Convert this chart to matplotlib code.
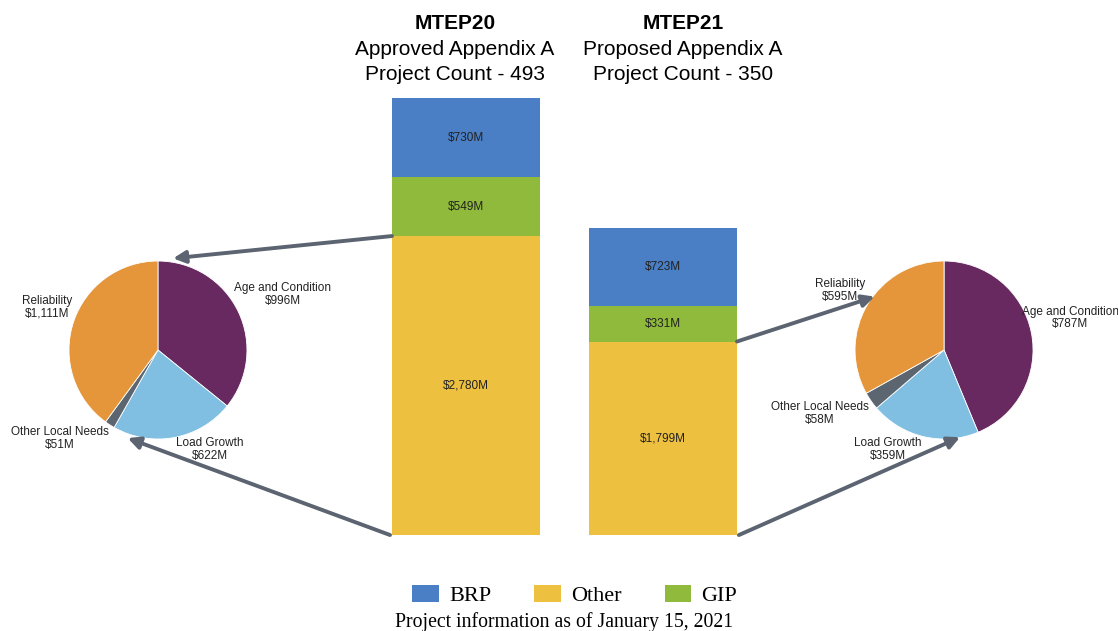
import matplotlib.pyplot as plt
from matplotlib.patches import ConnectionPatch

plt.rcParams['font.family'] = ['Liberation Sans', 'DejaVu Sans']

# bar data ($M)
plans = ['MTEP20', 'MTEP21']
subtitles = ['Approved Appendix A', 'Proposed Appendix A']
counts = [493, 350]
other = [2780, 1799]
gip = [549, 331]
brp = [730, 723]

# breakdown of "Other" ($M)
pie_labels = ['Age and Condition', 'Load Growth', 'Other Local Needs', 'Reliability']
pie20 = [996, 622, 51, 1111]
pie21 = [787, 359, 58, 595]

c_brp, c_gip, c_other = '#4a7fc5', '#8fba3c', '#edc040'
pie_colors = ['#67295f', '#80bfe2', '#5b6670', '#e5953a']
arrow_color = '#5b6470'


def money(v):
    return f"${v:,}M"


fig = plt.figure(figsize=(11.18, 6.31), dpi=100)

# stacked bars
ax = fig.add_axes([0.3287, 0.1521, 0.3524, 0.767])
x = [0, 1]
w = 0.751
b_other = ax.bar(x, other, w, color=c_other, label='Other')
b_gip = ax.bar(x, gip, w, bottom=other, color=c_gip, label='GIP')
b_brp = ax.bar(x, brp, w, bottom=[o + g for o, g in zip(other, gip)],
               color=c_brp, label='BRP')
for cont, vals in [(b_other, other), (b_gip, gip), (b_brp, brp)]:
    ax.bar_label(cont, labels=[money(v) for v in vals], label_type='center',
                 fontsize=8.5, color='#222222')
ax.set_xlim(-0.5, 1.5)
ax.set_ylim(0, 4500)
ax.axis('off')

# titles above bars
for xf, name, sub, n in zip([0.407, 0.611], plans, subtitles, counts):
    fig.text(xf, 0.963, name, ha='center', va='center', fontsize=15,
             fontweight='bold')
    fig.text(xf, 0.922, sub, ha='center', va='center', fontsize=15)
    fig.text(xf, 0.882, f"Project Count - {n}", ha='center', va='center',
             fontsize=15)

# pies
label_pos20 = [(1.40, 0.62), (0.58, -1.12), (-1.10, -0.99), (-1.25, 0.48)]
label_pos21 = [(1.42, 0.36), (-0.63, -1.12), (-1.40, -0.71), (-1.17, 0.67)]
pie_axes = []
for left, vals, pos in [(0.0418, pie20, label_pos20), (0.7449, pie21, label_pos21)]:
    pax = fig.add_axes([left, 0.269, 0.199, 0.3526])
    pax.pie(vals, colors=pie_colors, startangle=90, counterclock=False,
            wedgeprops=dict(linewidth=0.6, edgecolor='white'))
    pax.set_xlim(-1.25, 1.25)
    pax.set_ylim(-1.25, 1.25)
    for lab, v, (px, py) in zip(pie_labels, vals, pos):
        pax.text(px, py, f"{lab}\n{money(v)}", ha='center', va='center',
                 fontsize=8.5, color='#222222', linespacing=1.1)
    pie_axes.append(pax)

# arrows from bars to pies
arrows = [
    ((-w / 2, other[0]), pie_axes[0], (0.17, 1.03)),
    ((-w / 2 - 0.01, 0), pie_axes[0], (-0.34, -0.99)),
    ((1 + w / 2, other[1]), pie_axes[1], (-0.78, 0.60)),
    ((1 + w / 2 + 0.01, 0), pie_axes[1], (0.18, -0.98)),
]
for start, pax, end in arrows:
    con = ConnectionPatch(xyA=start, coordsA=ax.transData, xyB=end,
                          coordsB=pax.transData, arrowstyle='-|>',
                          mutation_scale=18, lw=2.8, color=arrow_color,
                          shrinkA=0, shrinkB=0)
    fig.add_artist(con)

# legend and footnote
fig.legend(handles=[b_brp, b_other, b_gip], labels=['BRP', 'Other', 'GIP'],
           loc='center', bbox_to_anchor=(0.514, 0.056), ncol=3, frameon=False,
           prop={'family': 'Liberation Serif', 'size': 16},
           handlelength=1.2, handleheight=0.8, handletextpad=0.45,
           columnspacing=1.94)
fig.text(0.5045, 0.014, 'Project information as of January 15, 2021',
         ha='center', va='center', fontsize=14.2, family='Liberation Serif')

fig.savefig('out.png', dpi=100)
